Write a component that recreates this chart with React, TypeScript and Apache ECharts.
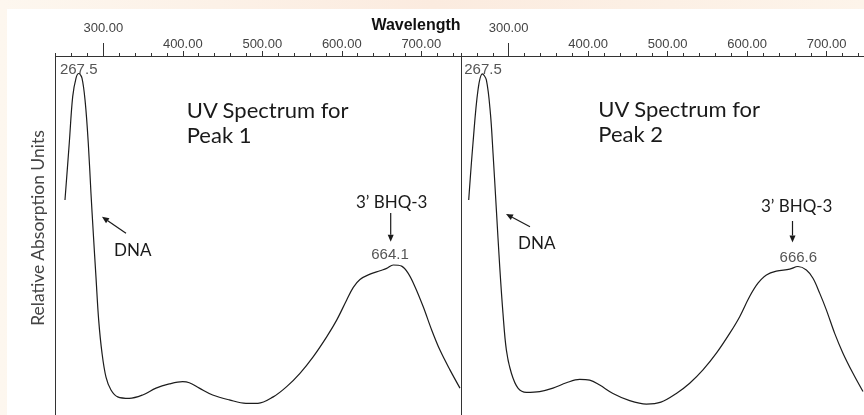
import React, { useEffect, useRef } from "react";
import * as echarts from "echarts";

// Peak 1 spectrum (wavelength nm, relative absorption)
const wavelength1 = [251.8, 257.2, 261.5, 265.7, 269.1, 273.2, 277.4, 281.1, 284.5, 287.4, 290.8, 294.2, 298.4, 303.4, 309.7, 318.1, 332.7, 349.6, 366.3, 383.0, 399.9, 408.2, 420.8, 437.6, 458.5, 479.5, 494.5, 513.8, 530.7, 547.4, 564.2, 581.0, 593.6, 606.2, 614.5, 622.9, 635.5, 648.1, 656.5, 664.8, 675.3, 683.6, 692.1, 702.5, 713.1, 723.5, 736.1, 748.7];
const absorbance1 = [62.1, 77.1, 89.3, 94.2, 95.4, 94.2, 87.6, 77.1, 63.9, 53.4, 41.8, 30.5, 21.8, 15.5, 12.1, 10.3, 9.9, 10.8, 12.6, 13.7, 14.3, 14.0, 12.6, 10.8, 9.5, 8.6, 8.6, 10.3, 13.0, 16.5, 20.9, 26.1, 30.5, 35.8, 39.1, 41.2, 42.6, 43.5, 44.1, 45.0, 44.7, 42.8, 39.3, 34.0, 27.9, 22.6, 17.4, 12.6];

// Peak 2 spectrum
const wavelength2 = [249.7, 255.1, 261.4, 266.9, 271.9, 277.0, 280.3, 284.5, 288.7, 292.8, 297.1, 303.4, 311.7, 322.3, 339.0, 355.7, 372.6, 389.3, 401.9, 414.5, 431.2, 452.2, 473.2, 491.5, 510.9, 527.7, 544.4, 561.3, 578.0, 590.6, 603.1, 613.6, 624.2, 636.7, 653.5, 663.9, 674.5, 682.8, 691.2, 699.6, 710.1, 720.5, 733.1, 745.7];
const absorbance2 = [62.1, 77.1, 91.1, 95.3, 93.7, 84.9, 74.4, 59.5, 44.6, 32.3, 22.6, 16.5, 12.6, 11.5, 11.7, 12.6, 14.0, 14.9, 14.7, 13.4, 11.2, 9.3, 8.4, 8.9, 11.2, 13.9, 17.4, 21.8, 27.0, 31.4, 36.7, 40.2, 42.4, 43.4, 43.9, 44.6, 43.7, 41.5, 37.6, 33.2, 27.0, 21.8, 16.5, 11.7];

// Axis ticks / labels
const minorTicks = [240, 260, 280, 300, 320, 340, 360, 380, 400, 420, 440, 460, 480, 500, 520, 540, 560, 580, 600, 620, 640, 660, 680, 700, 720, 740];
const majorTicks = [300, 400, 500, 600, 700];
const tickLabels = [400, 500, 600, 700];
const highTick = [300];

// Annotations
const titleLine1 = ["UV Spectrum for", "UV Spectrum for"];
const titleLine2 = ["Peak 1", "Peak 2"];
const uvPeakLabels = ["267.5", "267.5"];
const visPeakLabels = ["664.1", "666.6"];

const X_MIN = 240;
const X_MAX = 750;

function arrow(x1: number, y1: number, x2: number, y2: number, color: string) {
  const dx = x2 - x1, dy = y2 - y1;
  const L = Math.hypot(dx, dy);
  const ux = dx / L, uy = dy / L;
  const hl = 7, hw = 3;
  const bx = x2 - ux * hl, by = y2 - uy * hl;
  return [
    { type: "line", silent: true, shape: { x1, y1, x2: bx, y2: by }, style: { stroke: color, lineWidth: 1.2 } },
    {
      type: "polygon",
      silent: true,
      shape: { points: [[x2, y2], [bx - uy * hw, by + ux * hw], [bx + uy * hw, by - ux * hw]] },
      style: { fill: color },
    },
  ];
}

export default function App() {
  const ref = useRef<HTMLDivElement>(null);

  useEffect(() => {
    if (!ref.current) return;
    const chart = echarts.init(ref.current, undefined, { renderer: "svg" });

    const panelLefts = [55.6, 461];
    const panelWidth = 405.4;
    const top = 56;
    const height = 380;

    const grids: any[] = [];
    const xAxes: any[] = [];
    const yAxes: any[] = [];
    const axisColor = "#333";
    const labelFont = { fontFamily: "Liberation Sans", fontSize: 13, color: "#444" };

    panelLefts.forEach((left) => {
      for (let k = 0; k < 3; k++) {
        const gi = grids.length;
        grids.push({ left, top, width: panelWidth, height, outerBoundsMode: "none", containLabel: false });
        const base: any = {
          type: "value",
          gridIndex: gi,
          position: "top",
          min: X_MIN,
          max: X_MAX,
          splitLine: { show: false },
          axisLine: { show: k === 0, onZero: false, lineStyle: { color: axisColor, width: 1 } },
        };
        if (k === 0) {
          base.axisTick = { show: true, length: 3, customValues: minorTicks, lineStyle: { color: axisColor } };
          base.axisLabel = {
            show: true,
            customValues: tickLabels,
            margin: 6,
            formatter: (v: number) => v.toFixed(2),
            ...labelFont,
          };
        } else if (k === 1) {
          base.axisTick = { show: true, length: 5, customValues: majorTicks, lineStyle: { color: axisColor } };
          base.axisLabel = { show: false };
        } else {
          base.axisTick = { show: true, length: 13, customValues: highTick, lineStyle: { color: axisColor } };
          base.axisLabel = {
            show: true,
            customValues: highTick,
            margin: 22,
            formatter: (v: number) => v.toFixed(2),
            ...labelFont,
          };
        }
        xAxes.push(base);
        yAxes.push({
          type: "value",
          gridIndex: gi,
          min: 0,
          max: 100,
          position: "left",
          axisLine: { show: k === 0, onZero: false, lineStyle: { color: axisColor, width: 1 } },
          axisTick: { show: false },
          axisLabel: { show: false },
          splitLine: { show: false },
        });
      }
    });

    const zip = (xs: number[], ys: number[]) => xs.map((x, i) => [x, ys[i]]);

    const lineStyle = { color: "#1c1c1c", width: 1.2 };
    const series: any[] = [
      {
        type: "line",
        xAxisIndex: 0,
        yAxisIndex: 0,
        data: zip(wavelength1, absorbance1),
        showSymbol: false,
        smooth: 0.35,
        clip: true,
        lineStyle,
      },
      {
        type: "line",
        xAxisIndex: 3,
        yAxisIndex: 3,
        data: zip(wavelength2, absorbance2),
        showSymbol: false,
        smooth: 0.35,
        clip: true,
        lineStyle,
      },
    ];

    const annoFont = "Lato";
    const txt = (x: number, y: number, text: string, size: number, family: string, fill: string, extra: any = {}) => ({
      type: "text",
      silent: true,
      x,
      y,
      style: { text, fontSize: size, fontFamily: family, fill, align: "center", verticalAlign: "middle", ...extra },
    });
    const title = (x: number, y: number, text: string) => ({
      type: "text",
      silent: true,
      x,
      y,
      style: { text, fontSize: 22, fontFamily: annoFont, fill: "#1a1a1a", align: "left", verticalAlign: "middle" },
    });

    const graphic: any[] = [
      {
        type: "rect",
        silent: true,
        z: -100,
        shape: { x: 0, y: 0, width: 864, height: 415 },
        style: {
          fill: new echarts.graphic.LinearGradient(0, 0, 1, 0, [
            { offset: 0, color: "#fdf7ef" },
            { offset: 0.5, color: "#fbebdf" },
            { offset: 1, color: "#fdf4ea" },
          ]),
        },
      },
      {
        type: "rect",
        silent: true,
        z: -99,
        shape: { x: 7, y: 9, width: 857, height: 406 },
        style: { fill: "#ffffff" },
      },
      txt(416, 24, "Wavelength", 16, "Liberation Sans", "#111", { fontWeight: "bold" }),
      {
        type: "text",
        silent: true,
        x: 37,
        y: 228,
        rotation: Math.PI / 2,
        style: {
          text: "Relative Absorption Units",
          fontSize: 17.5,
          fontFamily: annoFont,
          fill: "#444",
          align: "center",
          verticalAlign: "middle",
        },
      },
      // Titles
      title(186.7, 109.3, titleLine1[0]),
      title(186.7, 134.5, titleLine2[0]),
      title(598.3, 108, titleLine1[1]),
      title(598.3, 133, titleLine2[1]),
      // Peak value labels
      txt(78.7, 68.3, uvPeakLabels[0], 15, "Liberation Sans", "#555"),
      txt(483, 68.3, uvPeakLabels[1], 15, "Liberation Sans", "#555"),
      txt(390, 253, visPeakLabels[0], 15, "Liberation Sans", "#555"),
      txt(798.3, 256.7, visPeakLabels[1], 15, "Liberation Sans", "#555"),
      // DNA labels
      txt(132.7, 249.3, "DNA", 17, annoFont, "#1a1a1a"),
      txt(536.7, 242.7, "DNA", 17, annoFont, "#1a1a1a"),
      ...arrow(126, 233.3, 102, 216.7, "#1a1a1a"),
      ...arrow(530, 226.7, 506, 214, "#1a1a1a"),
      // BHQ labels
      txt(391.7, 201.7, "3\u2019 BHQ-3", 17, annoFont, "#1a1a1a"),
      txt(796.7, 205, "3\u2019 BHQ-3", 17, annoFont, "#1a1a1a"),
      ...arrow(390.7, 213, 390.7, 241.7, "#1a1a1a"),
      ...arrow(792.5, 221, 792.5, 242.5, "#1a1a1a"),
    ];

    chart.setOption({
      animation: false,
      grid: grids,
      xAxis: xAxes,
      yAxis: yAxes,
      series,
      graphic,
    });

    return () => chart.dispose();
  }, []);

  return (
    <div
      ref={ref}
      style={{ position: "fixed", left: 0, top: 0, width: 864, height: 415 }}
    />
  );
}
